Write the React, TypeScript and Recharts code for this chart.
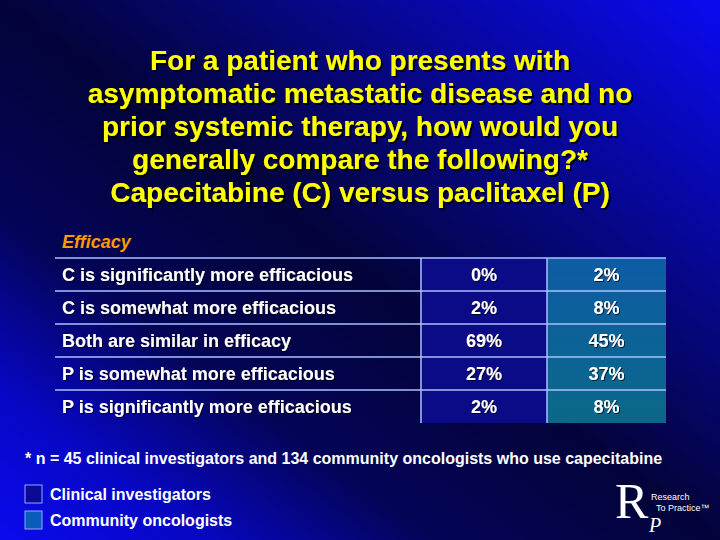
import React from 'react';
import { BarChart, Bar, XAxis, YAxis, LabelList } from 'recharts';

const rowLabels = [
  'C is significantly more efficacious',
  'C is somewhat more efficacious',
  'Both are similar in efficacy',
  'P is somewhat more efficacious',
  'P is significantly more efficacious',
];
const clinicalInvestigators = [0, 2, 69, 27, 2];
const communityOncologists = [2, 8, 45, 37, 8];
const titleLines = [
  'For a patient who presents with',
  'asymptomatic metastatic disease and no',
  'prior systemic therapy, how would you',
  'generally compare the following?*',
  'Capecitabine (C) versus paclitaxel (P)',
];
const sectionLabel = 'Efficacy';
const footnote = '* n = 45 clinical investigators and 134 community oncologists who use capecitabine';
const legendItems = ['Clinical investigators', 'Community oncologists'];

const tableData = rowLabels.map((label, i) => ({
  label,
  ci: clinicalInvestigators[i],
  co: communityOncologists[i],
}));

const COL_LABEL = 366;
const COL_CI = 126;
const COL_CO = 119;
const LINE = '#a9c2ff';
const FONT = '"Liberation Sans", Arial, Helvetica, sans-serif';
const SERIF = '"Liberation Serif", "Times New Roman", serif';

const cellShape = (fill: string, leftLine: boolean) => (props: any) => {
  const { x, y, width, height } = props;
  return (
    <g>
      <rect x={x} y={y} width={width} height={height} fill={fill} />
      <line x1={x} x2={x + width} y1={y} y2={y} stroke={LINE} strokeWidth={1.5} />
      {leftLine && <line x1={x} x2={x} y1={y} y2={y + height} stroke={LINE} strokeWidth={1.5} />}
    </g>
  );
};

const labelContent = (props: any) => {
  const { x, y, height, value } = props;
  return (
    <text x={x + 7} y={y + height / 2 + 6.5} fill="#ffffff" fontFamily={FONT} fontWeight="bold" fontSize={18} filter="url(#smallShadow)">
      {value}
    </text>
  );
};

const valueContent = (props: any) => {
  const { x, y, width, height, value } = props;
  return (
    <text x={x + width / 2} y={y + height / 2 + 6.5} fill="#ffffff" fontFamily={FONT} fontWeight="bold" fontSize={18} textAnchor="middle" filter="url(#smallShadow)">
      {value}%
    </text>
  );
};

export default function App() {
  return (
    <div style={{ position: 'absolute', left: 0, top: 0, width: 720, height: 540 }}>
      <svg width={720} height={540} style={{ position: 'absolute', left: 0, top: 0 }}>
        <defs>
          <linearGradient id="bg" x1="0" y1="1" x2="1" y2="0">
            <stop offset="0" stopColor="#0a0aee" />
            <stop offset="0.14" stopColor="#0707c4" />
            <stop offset="0.3" stopColor="#040458" />
            <stop offset="0.5" stopColor="#03033a" />
            <stop offset="0.68" stopColor="#06067a" />
            <stop offset="1" stopColor="#0a0af2" />
          </linearGradient>
          <filter id="titleShadow" x="-10%" y="-30%" width="120%" height="160%">
            <feDropShadow dx="2" dy="2" stdDeviation="0.6" floodColor="#000000" floodOpacity="0.95" />
          </filter>
        </defs>
        <rect x={0} y={0} width={720} height={540} fill="url(#bg)" />
        {titleLines.map((t, i) => (
          <text key={i} x={360} y={70 + i * 33} fill="#ffff00" fontFamily={FONT} fontWeight="bold" fontSize={28} textAnchor="middle" filter="url(#titleShadow)">
            {t}
          </text>
        ))}
        <text x={62} y={248} fill="#ff9900" fontFamily={FONT} fontWeight="bold" fontStyle="italic" fontSize={18}>
          {sectionLabel}
        </text>
        <text x={25} y={464} fill="#ffffff" fontFamily={FONT} fontWeight="bold" fontSize={16}>
          {footnote}
        </text>
        <rect x={25} y={485} width={17} height={18} fill="#0a0a96" stroke="#8fa8ff" strokeWidth={1} />
        <rect x={25} y={511} width={17} height={18} fill="#0a5cbc" stroke="#8fa8ff" strokeWidth={1} />
        {legendItems.map((t, i) => (
          <text key={i} x={50} y={500 + i * 26} fill="#ffffff" fontFamily={FONT} fontWeight="bold" fontSize={16}>
            {t}
          </text>
        ))}
        <text x={615} y={518} fill="#ffffff" fontFamily={SERIF} fontSize={50}>R</text>
        <text x={649} y={532} fill="#ffffff" fontFamily={SERIF} fontStyle="italic" fontSize={20}>P</text>
        <text x={651} y={500} fill="#ffffff" fontFamily={FONT} fontSize={9}>Research</text>
        <text x={656} y={511} fill="#ffffff" fontFamily={FONT} fontSize={9}>To Practice™</text>
      </svg>
      <div style={{ position: 'absolute', left: 0, top: 0 }}>
        <BarChart
          width={720}
          height={540}
          data={tableData}
          layout="vertical"
          margin={{ top: 258, bottom: 117, left: 55, right: 54 }}
          barCategoryGap={0}
          barGap={0}
        >
          <defs>
            <linearGradient id="coFill" gradientUnits="userSpaceOnUse" x1="0" y1="258" x2="0" y2="423">
              <stop offset="0" stopColor="#0d5ca6" />
              <stop offset="1" stopColor="#0b6888" />
            </linearGradient>
            <filter id="smallShadow" x="-10%" y="-30%" width="120%" height="160%">
              <feDropShadow dx="1" dy="1" stdDeviation="0.5" floodColor="#000000" floodOpacity="0.7" />
            </filter>
          </defs>
          <XAxis type="number" hide domain={[0, COL_LABEL + COL_CI + COL_CO]} />
          <YAxis type="category" dataKey="label" hide />
          <Bar dataKey={() => COL_LABEL} stackId="t" isAnimationActive={false} shape={cellShape('transparent', false)}>
            <LabelList dataKey="label" content={labelContent} />
          </Bar>
          <Bar dataKey={() => COL_CI} stackId="t" isAnimationActive={false} shape={cellShape('#0b0b88', true)}>
            <LabelList dataKey="ci" content={valueContent} />
          </Bar>
          <Bar dataKey={() => COL_CO} stackId="t" isAnimationActive={false} shape={cellShape('url(#coFill)', true)}>
            <LabelList dataKey="co" content={valueContent} />
          </Bar>
        </BarChart>
      </div>
    </div>
  );
}
